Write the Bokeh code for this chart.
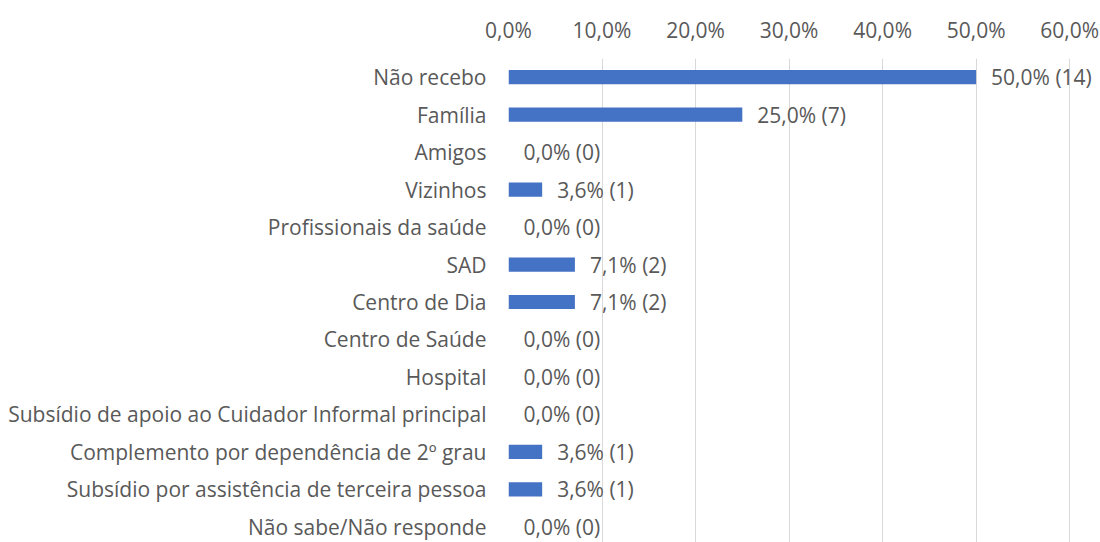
from bokeh.plotting import figure
from bokeh.models import ColumnDataSource, Range1d, FixedTicker, LabelSet
from bokeh.core.properties import value
from bokeh.embed import file_html
from bokeh.resources import INLINE

categories = ["Não recebo", "Família", "Amigos", "Vizinhos", "Profissionais da saúde",
              "SAD", "Centro de Dia", "Centro de Saúde", "Hospital",
              "Subsídio de apoio ao Cuidador Informal principal",
              "Complemento por dependência de 2º grau",
              "Subsídio por assistência de terceira pessoa",
              "Não sabe/Não responde"]
percents = [50.0, 25.0, 0.0, 3.6, 0.0, 7.1, 7.1, 0.0, 0.0, 0.0, 3.6, 3.6, 0.0]
counts = [14, 7, 0, 1, 0, 2, 2, 0, 0, 0, 1, 1, 0]
x_ticks = [0, 10, 20, 30, 40, 50, 60]
x_tick_labels = ["0,0%", "10,0%", "20,0%", "30,0%", "40,0%", "50,0%", "60,0%"]

FONT = "Open Sans"
GREY = "#595959"

ypos = list(range(len(categories)))
labels = [f"{p:.1f}".replace(".", ",") + f"% ({c})" for p, c in zip(percents, counts)]
src = ColumnDataSource(dict(y=ypos, v=percents, lab=labels))

p = figure(width=1100, height=542, output_backend="svg", toolbar_location=None,
           x_range=Range1d(0, 63.3), y_range=Range1d(12.42, -0.5),
           x_axis_location="above", min_border_left=508, min_border_top=58,
           min_border_right=0, min_border_bottom=0)
p.outline_line_color = None
p.background_fill_color = "white"

p.hbar(y="y", left=0, right="v", height=0.38, source=src,
       fill_color="#4472C4", line_color=None)

ls = LabelSet(x="v", y="y", text="lab", source=src, x_offset=15, y_offset=0,
              text_baseline="middle", text_align="left", text_font=value(FONT),
              text_font_size=value("21px"), text_color=GREY)
p.add_layout(ls)

xa = p.xaxis[0]
xa.ticker = FixedTicker(ticks=x_ticks)
xa.major_label_overrides = {t: l for t, l in zip(x_ticks, x_tick_labels)}
xa.axis_line_color = None
xa.major_tick_line_color = None
xa.minor_tick_line_color = None
xa.major_label_text_font = FONT
xa.major_label_text_font_size = "21px"
xa.major_label_text_color = GREY
xa.major_label_standoff = 9

ya = p.yaxis[0]
ya.ticker = FixedTicker(ticks=ypos)
ya.major_label_overrides = {i: c for i, c in zip(ypos, categories)}
ya.axis_line_color = None
ya.major_tick_line_color = None
ya.minor_tick_line_color = None
ya.major_label_text_font = FONT
ya.major_label_text_font_size = "21px"
ya.major_label_text_color = GREY
ya.major_label_standoff = 16

p.xgrid.ticker = FixedTicker(ticks=x_ticks)
p.xgrid.grid_line_color = "#d9d9d9"
p.ygrid.grid_line_color = None

open("out.html", "w").write(file_html(p, INLINE))
